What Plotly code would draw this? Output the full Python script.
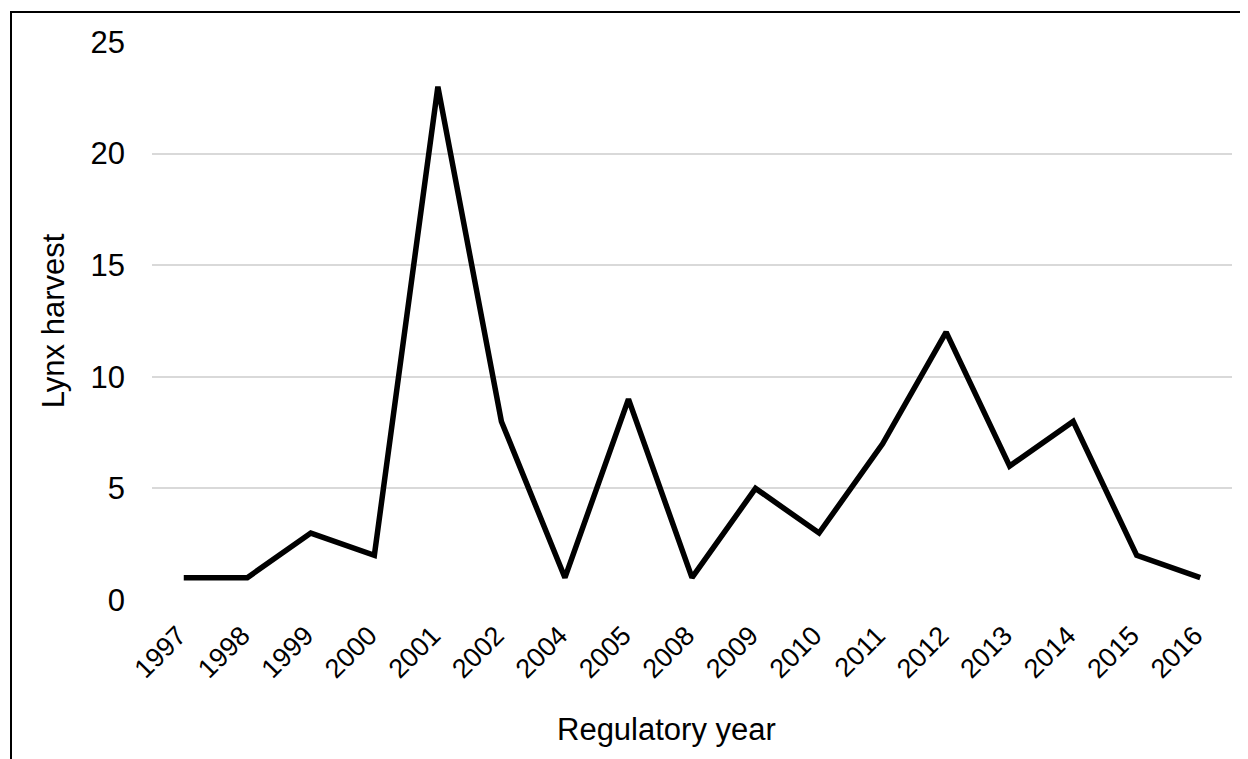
import plotly.graph_objects as go

years = ["1997", "1998", "1999", "2000", "2001", "2002", "2004", "2005", "2008",
         "2009", "2010", "2011", "2012", "2013", "2014", "2015", "2016"]
harvest = [1, 1, 3, 2, 23, 8, 1, 9, 1, 5, 3, 7, 12, 6, 8, 2, 1]
y_ticks = [0, 5, 10, 15, 20, 25]

font = "Liberation Sans, Arial, sans-serif"

fig = go.Figure()
fig.add_trace(go.Scatter(
    x=years, y=harvest, mode="lines",
    line=dict(color="black", width=5.5),
    hoverinfo="x+y",
))

fig.update_layout(
    width=1240, height=751,
    margin=dict(l=144, r=16, t=34, b=159),
    paper_bgcolor="white", plot_bgcolor="white",
    showlegend=False,
    font=dict(family=font, color="black", size=31),
    xaxis=dict(
        type="category", range=[-0.5, 16.5],
        tickangle=-45, showgrid=False, zeroline=False, showline=False,
        ticks="", tickfont=dict(size=27), ticklabelstandoff=8,
        ticksuffix="\u00a0",
    ),
    yaxis=dict(
        range=[0, 25], tickvals=y_ticks, showgrid=True,
        gridcolor="#d9d9d9", gridwidth=1.5, zeroline=False, showline=False,
        ticks="", tickfont=dict(size=31), ticklabelstandoff=26,
        title=dict(text="Lynx harvest", font=dict(size=31), standoff=16),
    ),
    annotations=[dict(
        text="Regulatory year", xref="paper", yref="paper",
        x=(666 - 152) / 1080, y=(600 - 729) / 558,
        xanchor="center", yanchor="middle", showarrow=False,
        font=dict(size=31, family=font, color="black"),
    )],
    shapes=[dict(
        type="rect", xref="paper", yref="paper",
        x0=(11 - 152) / 1080, x1=1.3, y0=-0.6, y1=(600 - 12) / 558,
        line=dict(color="black", width=2), fillcolor="rgba(0,0,0,0)", layer="below",
    )],
)

fig.write_html("out.html")
